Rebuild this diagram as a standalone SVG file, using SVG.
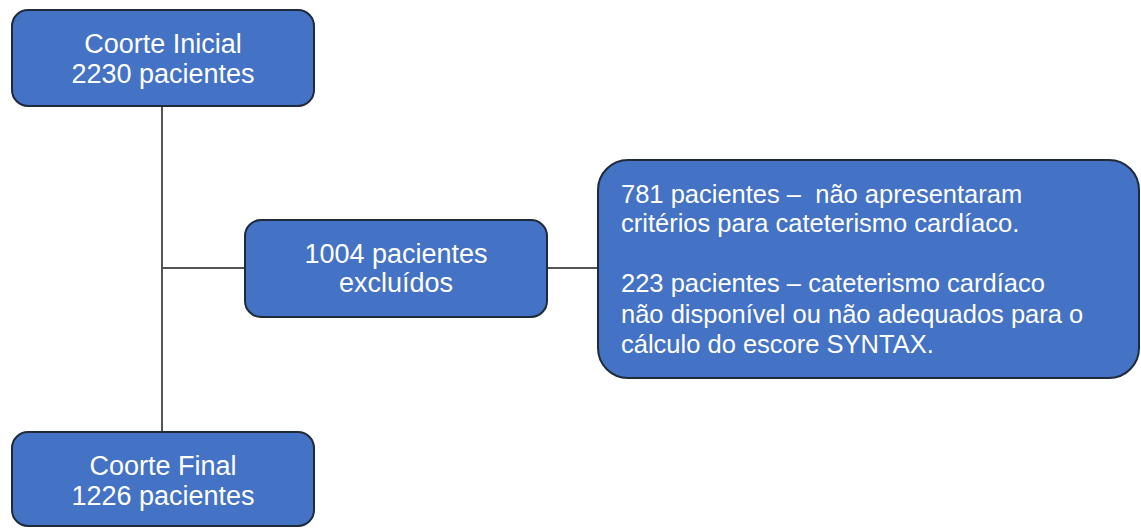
<svg xmlns="http://www.w3.org/2000/svg" width="1141" height="529" viewBox="0 0 1141 529">
<style>
.box{fill:#4472C4;stroke:#1f2a3a;stroke-width:2}
.t{font-family:"Liberation Sans",Arial,sans-serif;font-size:27px;fill:#ffffff}
.s{font-size:25.5px}
.c{text-anchor:middle}
.ln{stroke:#555;stroke-width:2;fill:none}
</style>
<rect width="1141" height="529" fill="#ffffff"/>
<g id="connectors">
<line class="ln" x1="162" y1="106" x2="162" y2="432"/>
<line class="ln" x1="162" y1="268" x2="245" y2="268"/>
<line class="ln" x1="547" y1="268" x2="598" y2="268"/>
</g>
<g id="coorte-inicial">
<rect class="box" x="12" y="10" width="302" height="96" rx="16"/>
<text class="t c" x="163" y="53">Coorte Inicial</text>
<text class="t c" x="163" y="83">2230 pacientes</text>
</g>
<g id="excluidos">
<rect class="box" x="245" y="220" width="302" height="97" rx="16"/>
<text class="t c" x="396" y="263">1004 pacientes</text>
<text class="t c" x="396" y="292">excluídos</text>
</g>
<g id="motivos">
<rect class="box" x="598" y="160" width="541" height="218" rx="30"/>
<text class="t s" x="621" y="203" xml:space="preserve">781 pacientes –  não apresentaram</text>
<text class="t s" x="621" y="232">critérios para cateterismo cardíaco.</text>
<text class="t s" x="621" y="292">223 pacientes – cateterismo cardíaco</text>
<text class="t s" x="621" y="323">não disponível ou não adequados para o</text>
<text class="t s" x="621" y="353">cálculo do escore SYNTAX.</text>
</g>
<g id="coorte-final">
<rect class="box" x="12" y="432" width="302" height="94" rx="16"/>
<text class="t c" x="163" y="475">Coorte Final</text>
<text class="t c" x="163" y="505">1226 pacientes</text>
</g>
</svg>
